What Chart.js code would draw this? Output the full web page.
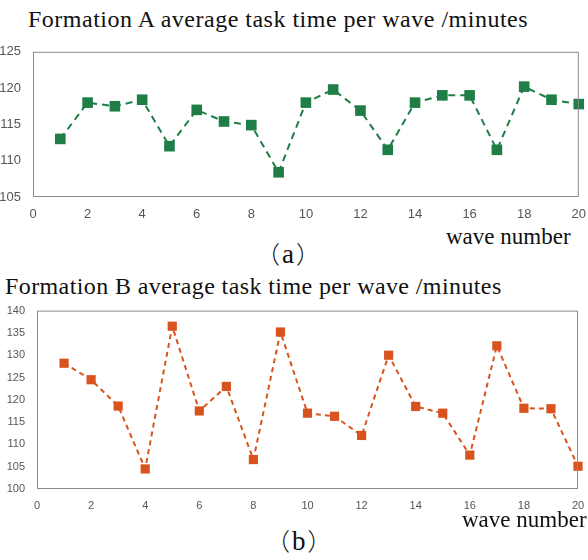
<!DOCTYPE html>
<html>
<head>
<meta charset="utf-8">
<script src="https://cdn.jsdelivr.net/npm/chart.js@4.4.0/dist/chart.umd.min.js"></script>
<style>
  body { margin: 0; background: #fff; }
  #page { position: relative; width: 588px; height: 560px; overflow: hidden; }
  .txt { position: absolute; font-family: "Liberation Serif", "Times New Roman", serif; color: #111; white-space: nowrap; line-height: 1; }
  .cap { font-size: 27px; letter-spacing: 2px; }
  .cap span { font-family: "Noto Sans CJK SC", sans-serif; font-weight: 300; font-size: 24px; }
  .box { position: absolute; left: 0; width: 588px; }
</style>
</head>
<body>
<div id="page">
  <div class="txt" style="left:28px; top:7px; font-size:24px; letter-spacing:0.5px;">Formation A average task time per wave /minutes</div>
  <div class="box" style="top:40px; height:180px;"><canvas id="chartA"></canvas></div>
  <div class="txt" style="left:446px; top:225px; font-size:23px;">wave number</div>
  <div class="txt cap" style="left:256px; top:241px;"><span>（</span>a<span>）</span></div>

  <div class="txt" style="left:5px; top:274px; font-size:24px; letter-spacing:0.4px;">Formation B average task time per wave /minutes</div>
  <div class="box" style="top:300px; height:210px;"><canvas id="chartB"></canvas></div>
  <div class="txt" style="left:462px; top:508px; font-size:23px;">wave number</div>
  <div class="txt cap" style="left:266px; top:528px;"><span>（</span>b<span>）</span></div>
</div>
<script>
// wave numbers 1..20
const waves = [1, 2, 3, 4, 5, 6, 7, 8, 9, 10, 11, 12, 13, 14, 15, 16, 17, 18, 19, 20];

// formation A, minutes
const timesA = [113, 118, 117.5, 118.4, 112, 117, 115.4, 114.9, 108.4, 118,
                119.8, 116.9, 111.5, 118, 119, 119, 111.5, 120.2, 118.4, 117.8];

// formation B, minutes
const timesB = [128.2, 124.5, 118.6, 104.5, 136.5, 117.5, 123, 106.6, 135.2, 117,
                116.3, 112, 130, 118.5, 117, 107.6, 132.1, 118.1, 118, 105.1];

const ticksX = [0, 2, 4, 6, 8, 10, 12, 14, 16, 18, 20];

// box round the plot area
const frame = {
  id: "frame",
  afterDraw(chart) {
    const a = chart.chartArea;
    const c = chart.ctx;
    c.save();
    c.strokeStyle = "#8a8a8a";
    c.lineWidth = 1;
    c.strokeRect(a.left + 0.5, a.top + 0.5, a.right - a.left - 1, a.bottom - a.top - 1);
    c.restore();
  }
};

function makeChart(id, values, color, yMin, yMax, opts) {
  const points = waves.map((w, i) => ({ x: w, y: values[i] }));
  return new Chart(document.getElementById(id), {
    type: "line",
    data: {
      datasets: [{
        data: points,
        borderColor: color,
        backgroundColor: color,
        borderWidth: opts.lineWidth,
        borderDash: opts.dash,
        pointStyle: "rect",
        pointRadius: opts.pointRadius,
        pointBorderWidth: 0,
        tension: 0,
        clip: false
      }]
    },
    options: {
      responsive: true,
      maintainAspectRatio: false,
      animation: false,
      layout: { padding: opts.padding },
      plugins: { legend: { display: false }, tooltip: { enabled: false } },
      scales: {
        x: {
          type: "linear",
          min: 0,
          max: 20,
          afterBuildTicks: (s) => { s.ticks = ticksX.map((v) => ({ value: v })); },
          afterFit: (s) => { s.height = opts.xHeight; },
          grid: { display: false },
          border: { display: false },
          ticks: { color: "#555", font: { family: "Liberation Sans", size: opts.fontSize }, padding: 2, maxRotation: 0 }
        },
        y: {
          min: yMin,
          max: yMax,
          afterFit: (s) => { s.width = opts.yWidth; },
          grid: { display: false },
          border: { display: false },
          ticks: { stepSize: 5, color: "#555", font: { family: "Liberation Sans", size: opts.fontSize }, padding: 4 }
        }
      }
    },
    plugins: [frame]
  });
}

makeChart("chartA", timesA, "#1f7d46", 105, 125, {
  lineWidth: 2, dash: [7, 5], pointRadius: 7.5,
  padding: { top: 10, right: 6, left: 0, bottom: 0 },
  xHeight: 23, yWidth: 33, fontSize: 13
});

makeChart("chartB", timesB, "#d9531e", 100, 140, {
  lineWidth: 2, dash: [5, 4], pointRadius: 6.5,
  padding: { top: 10, right: 10, left: 0, bottom: 0 },
  xHeight: 21, yWidth: 37, fontSize: 11
});
</script>
</body>
</html>
